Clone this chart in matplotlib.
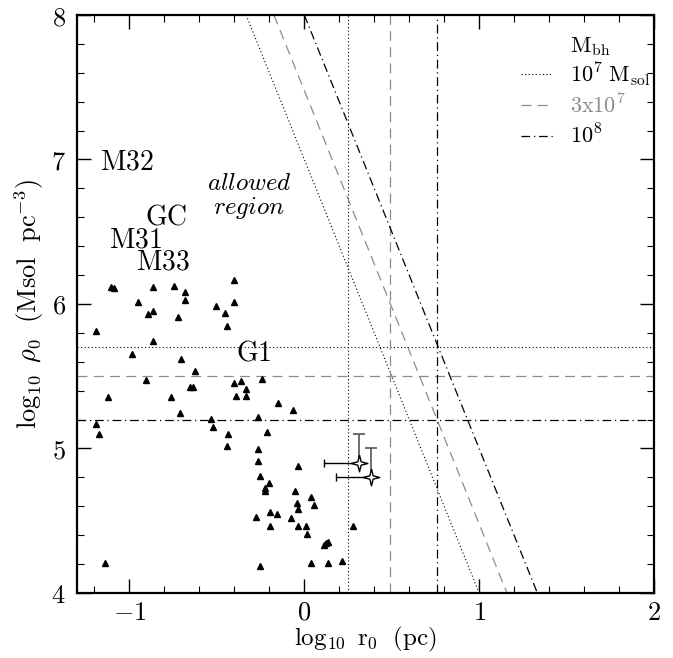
import matplotlib
matplotlib.use("Agg")
import matplotlib.pyplot as plt
from matplotlib.ticker import FixedLocator, MultipleLocator, FixedFormatter
from matplotlib.lines import Line2D

plt.rcParams['mathtext.fontset'] = 'cm'
plt.rcParams['font.family'] = 'serif'

# ---- data ----
tri_x = [-1.105, -1.086, -0.863, -0.743, -0.684, -0.404, -0.952, -0.684, -0.505, -0.404,
         -0.895, -0.863, -0.724, -0.453, -1.194, -0.863, -0.983, -0.703, -0.623, -0.905,
         -0.653, -0.636, -1.124, -0.764, -0.712, -1.194, -1.173, -0.444, -0.404, -0.362,
         -0.244, -0.331, -0.393, -0.331, -0.152, -0.063, -0.533, -0.265, -0.524, -0.213,
         -0.434, -0.444, -0.265, -0.265, -0.034, -0.253, -0.204, -0.223, -0.223, -0.053,
         0.038, -0.044, 0.057, -0.034, -0.194, -0.154, -0.274, -0.074, -0.194, -0.034,
         0.008, 0.017, 0.114, 0.124, 0.137, -0.255, 0.038, 0.137, 0.276, 0.215, -1.141]
tri_y = [6.116, 6.109, 6.116, 6.125, 6.085, 6.166, 6.016, 6.028, 5.986, 6.016,
         5.929, 5.954, 5.908, 5.936, 5.815, 5.746, 5.656, 5.617, 5.536, 5.476,
         5.428, 5.428, 5.359, 5.359, 5.248, 5.170, 5.098, 5.848, 5.455, 5.467,
         5.479, 5.410, 5.366, 5.366, 5.317, 5.266, 5.206, 5.218, 5.147, 5.116,
         5.098, 5.019, 4.997, 4.916, 4.879, 4.808, 4.759, 4.729, 4.706, 4.706,
         4.667, 4.621, 4.607, 4.579, 4.558, 4.547, 4.528, 4.519, 4.466, 4.466,
         4.466, 4.408, 4.332, 4.344, 4.355, 4.189, 4.205, 4.205, 4.466, 4.219, 4.205]

star_x = [0.31, 0.38]
star_y = [4.90, 4.80]
star_xerr_left = [0.20, 0.20]
star_yerr_up = [0.20, 0.20]

mass_labels = [r'$10^7\ \mathrm{M_{sol}}$', r'$3\mathrm{x}10^7$', r'$10^8$']
rho_limits = [5.70, 5.50, 5.20]      # horizontal lines
r_limits = [0.25, 0.49, 0.76]        # vertical lines
diag_x_at_top = [-0.333, -0.174, 0.0]   # x where diagonal meets log rho = 8
diag_x_at_bot = [1.0, 1.159, 1.333]     # x where diagonal meets log rho = 4

galaxy_names = [r'$\mathrm{M32}$', r'$\mathrm{GC}$', r'$\mathrm{M31}$', r'$\mathrm{M33}$', r'$\mathrm{G1}$']
galaxy_x = [-1.17, -0.91, -1.115, -0.965, -0.39]
galaxy_y = [6.98, 6.60, 6.443, 6.29, 5.66]

xtick_vals = [-1, 0, 1, 2]
xtick_labels = [r'$-1$', r'$0$', r'$1$', r'$2$']
ytick_vals = [4, 5, 6, 7, 8]
ytick_labels = [r'$4$', r'$5$', r'$6$', r'$7$', r'$8$']

# ---- styles ----
styles = [dict(color='black', ls=(0, (1, 2.2)), lw=0.8),
          dict(color='#8c8c8c', ls=(0, (8, 5)), lw=0.9),
          dict(color='black', ls=(0, (7, 3, 1, 3)), lw=0.9)]
label_colors = ['black', '#8c8c8c', 'black']

# concave 4-point star marker
star_verts = [(0, 1), (0.2, 0.2), (1, 0), (0.2, -0.2), (0, -1),
              (-0.2, -0.2), (-1, 0), (-0.2, 0.2), (0, 1)]

fig = plt.figure(figsize=(6.73, 6.58), dpi=100)
ax = fig.add_axes([0.1144, 0.0988, 0.8574, 0.8784])
ax.set_xlim(-1.3, 2.0)
ax.set_ylim(4.0, 8.0)

handles = []
for i in range(3):
    st = styles[i]
    ax.axhline(rho_limits[i], **st)
    ax.axvline(r_limits[i], **st)
    ax.plot([diag_x_at_top[i], diag_x_at_bot[i]], [8.0, 4.0], **st)
    handles.append(Line2D([], [], **st))

ax.plot(tri_x, tri_y, ls='none', marker='^', ms=5, color='black')

for i in range(2):
    ax.errorbar(star_x[i], star_y[i], xerr=[[star_xerr_left[i]], [0]], fmt='none',
                ecolor='black', elinewidth=1.0, capsize=3, capthick=1.0)
    ax.errorbar(star_x[i], star_y[i], yerr=[[0], [star_yerr_up[i]]], fmt='none',
                ecolor='#555555', elinewidth=1.2, capsize=4, capthick=1.2)
ax.plot(star_x, star_y, ls='none', marker=star_verts, ms=12, mfc='white', mec='black', mew=1.0)

for name, gx, gy in zip(galaxy_names, galaxy_x, galaxy_y):
    ax.text(gx, gy, name, fontsize=20, ha='left', va='center')

ax.text(-0.317, 6.837, r'$\mathit{allowed}$', fontsize=18, ha='center', va='center')
ax.text(-0.317, 6.664, r'$\mathit{region}$', fontsize=18, ha='center', va='center')

leg = ax.legend(handles, mass_labels, loc='upper left', bbox_to_anchor=(0.7695, 0.922),
                frameon=False, fontsize=16, handlelength=1.45, handletextpad=0.75,
                labelspacing=0.28, borderpad=0, borderaxespad=0, labelcolor=label_colors)
ax.text(0.855, 0.945, r'$\mathrm{M_{bh}}$', transform=ax.transAxes, fontsize=16,
        ha='left', va='center')

ax.xaxis.set_major_locator(FixedLocator(xtick_vals))
ax.xaxis.set_major_formatter(FixedFormatter(xtick_labels))
ax.xaxis.set_minor_locator(MultipleLocator(0.2))
ax.yaxis.set_major_locator(FixedLocator(ytick_vals))
ax.yaxis.set_major_formatter(FixedFormatter(ytick_labels))
ax.yaxis.set_minor_locator(MultipleLocator(0.2))
ax.tick_params(which='both', direction='in', top=True, right=True, labelsize=19)
ax.tick_params(which='major', length=10, width=1.0, pad=5)
ax.tick_params(which='minor', length=5, width=0.8)
ax.tick_params(axis='y', which='major', pad=8)
for s in ax.spines.values():
    s.set_linewidth(1.6)

ax.set_xlabel(r'$\log_{10}\ \mathrm{r}_0\ \ \mathrm{(pc)}$', fontsize=18, labelpad=0)
ax.set_ylabel(r'$\log_{10}\ \rho_0\ \ \mathrm{(Msol\ \ pc^{-3})}$', fontsize=19, labelpad=4)

fig.savefig('out.png', dpi=100)
